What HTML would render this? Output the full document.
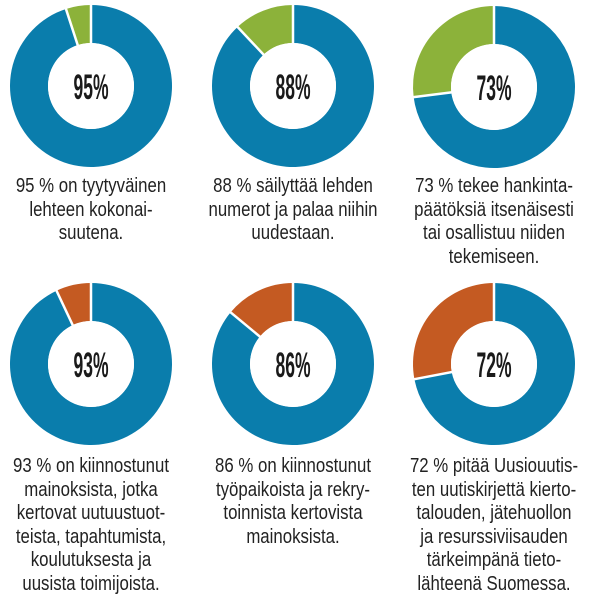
<!DOCTYPE html>
<html><head><meta charset="utf-8"><style>
body{margin:0;background:#fff;width:600px;height:598px;overflow:hidden;position:relative;font-family:"Liberation Sans",sans-serif}
svg{position:absolute;left:0;top:0}
.t{position:absolute;width:240px;text-align:center;font-size:20px;line-height:23.5px;color:#222;transform:scaleX(0.84);transform-origin:center top;}
</style></head><body>
<svg width="600" height="598" id="s"></svg>
<div class="t" style="left:-29px;top:175px">95 % on tyytyväinen<br>lehteen kokonai-<br>suutena.</div>
<div class="t" style="left:173px;top:175px">88 % säilyttää lehden<br>numerot ja palaa niihin<br>uudestaan.</div>
<div class="t" style="left:374px;top:175px">73 % tekee hankinta-<br>päätöksiä itsenäisesti<br>tai osallistuu niiden<br>tekemiseen.</div>
<div class="t" style="left:-29px;top:455px">93 % on kiinnostunut<br>mainoksista, jotka<br>kertovat uutuustuot-<br>teista, tapahtumista,<br>koulutuksesta ja<br>uusista toimijoista.</div>
<div class="t" style="left:173px;top:455px">86 % on kiinnostunut<br>työpaikoista ja rekry-<br>toinnista kertovista<br>mainoksista.</div>
<div class="t" style="left:374px;top:455px">72 % pitää Uusiouutis-<br>ten uutiskirjettä kierto-<br>talouden, jätehuollon<br>ja resurssiviisauden<br>tärkeimpänä tieto-<br>lähteenä Suomessa.</div>
<script>
var d=[[91,86,95,'#8cb23a'],[293,86,88,'#8cb23a'],[494,87,73,'#8cb23a'],[91,364,93,'#c45a22'],[293,364,86,'#c45a22'],[494,364,72,'#c45a22']];
var h='';
function arc(cx,cy,R,r,a0,a1,c){
 function p(rad,a){return [cx+rad*Math.sin(a),cy-rad*Math.cos(a)];}
 var l=(a1-a0)>Math.PI?1:0;
 var A=p(R,a0),B=p(R,a1),C=p(r,a1),D=p(r,a0);
 return '<path fill="'+c+'" d="M'+A+' A'+R+' '+R+' 0 '+l+' 1 '+B+' L'+C+' A'+r+' '+r+' 0 '+l+' 0 '+D+'Z"/>';
}
d.forEach(function(x){
 var cx=x[0],cy=x[1],p=x[2],R=81,r=43,a=p/100*2*Math.PI;
 h+=arc(cx,cy,R,r,0,a,'#0a7dac');
 h+=arc(cx,cy,R,r,a,2*Math.PI-0.0001,x[3]);
 var e=[cx+(R+2)*Math.sin(a),cy-(R+2)*Math.cos(a)];
 h+='<line x1="'+cx+'" y1="'+cy+'" x2="'+cx+'" y2="'+(cy-R-2)+'" stroke="#fff" stroke-width="2.5"/>';
 h+='<line x1="'+cx+'" y1="'+cy+'" x2="'+e[0]+'" y2="'+e[1]+'" stroke="#fff" stroke-width="2.5"/>';
 h+='<circle cx="'+cx+'" cy="'+cy+'" r="'+r+'" fill="#fff"/>';
 h+='<text transform="translate('+cx+','+(cy+13)+') scale(0.5,1)" text-anchor="middle" font-family="Liberation Sans,sans-serif" font-weight="bold" font-size="35" fill="#1a1a1a">'+p+'%</text>';
});
document.getElementById('s').innerHTML=h;
</script>
</body></html>
